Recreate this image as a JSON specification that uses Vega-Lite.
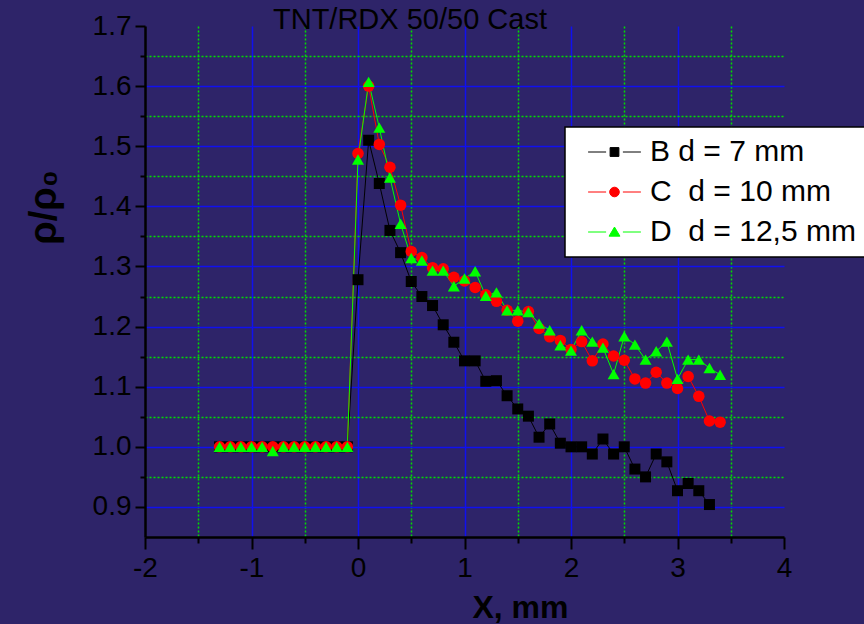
{
  "$schema": "https://vega.github.io/schema/vega-lite/v6.json",
  "width": 639,
  "height": 511,
  "autosize": {"type": "none"},
  "padding": {"left": 145, "top": 26, "right": 80, "bottom": 87},
  "background": "#2e2469",
  "title": {"text": "TNT/RDX 50/50 Cast", "anchor": "start", "frame": "group", "dx": 128, "dy": 25, "fontSize": 29, "font": "Liberation Sans", "fontWeight": "normal", "color": "black", "offset": 2},
  "config": {"view": {"stroke": null}, "font": "Liberation Sans"},
  "resolve": {"legend": {"color": "independent", "shape": "independent", "size": "independent"}},
  "data": {"values": [
    {"s": "B d = 7 mm", "x": -1.3, "y": 1.0}, {"s": "B d = 7 mm", "x": -1.2, "y": 1.0}, {"s": "B d = 7 mm", "x": -1.1, "y": 1.0}, {"s": "B d = 7 mm", "x": -1.0, "y": 1.0}, {"s": "B d = 7 mm", "x": -0.9, "y": 1.0}, {"s": "B d = 7 mm", "x": -0.8, "y": 1.0}, {"s": "B d = 7 mm", "x": -0.7, "y": 1.0}, {"s": "B d = 7 mm", "x": -0.6, "y": 1.0}, {"s": "B d = 7 mm", "x": -0.5, "y": 1.0}, {"s": "B d = 7 mm", "x": -0.4, "y": 1.0}, {"s": "B d = 7 mm", "x": -0.3, "y": 1.0}, {"s": "B d = 7 mm", "x": -0.2, "y": 1.0}, {"s": "B d = 7 mm", "x": -0.1, "y": 1.0},
    {"s": "B d = 7 mm", "x": 0.0, "y": 1.278}, {"s": "B d = 7 mm", "x": 0.1, "y": 1.510}, {"s": "B d = 7 mm", "x": 0.2, "y": 1.438}, {"s": "B d = 7 mm", "x": 0.3, "y": 1.360}, {"s": "B d = 7 mm", "x": 0.4, "y": 1.323}, {"s": "B d = 7 mm", "x": 0.5, "y": 1.275}, {"s": "B d = 7 mm", "x": 0.6, "y": 1.250}, {"s": "B d = 7 mm", "x": 0.7, "y": 1.235}, {"s": "B d = 7 mm", "x": 0.8, "y": 1.203}, {"s": "B d = 7 mm", "x": 0.9, "y": 1.174},
    {"s": "B d = 7 mm", "x": 1.0, "y": 1.143}, {"s": "B d = 7 mm", "x": 1.1, "y": 1.143}, {"s": "B d = 7 mm", "x": 1.2, "y": 1.109}, {"s": "B d = 7 mm", "x": 1.3, "y": 1.110}, {"s": "B d = 7 mm", "x": 1.4, "y": 1.085}, {"s": "B d = 7 mm", "x": 1.5, "y": 1.063}, {"s": "B d = 7 mm", "x": 1.6, "y": 1.051}, {"s": "B d = 7 mm", "x": 1.7, "y": 1.016}, {"s": "B d = 7 mm", "x": 1.8, "y": 1.038}, {"s": "B d = 7 mm", "x": 1.9, "y": 1.006},
    {"s": "B d = 7 mm", "x": 2.0, "y": 1.000}, {"s": "B d = 7 mm", "x": 2.1, "y": 1.000}, {"s": "B d = 7 mm", "x": 2.2, "y": 0.988}, {"s": "B d = 7 mm", "x": 2.3, "y": 1.013}, {"s": "B d = 7 mm", "x": 2.4, "y": 0.988}, {"s": "B d = 7 mm", "x": 2.5, "y": 1.000}, {"s": "B d = 7 mm", "x": 2.6, "y": 0.963}, {"s": "B d = 7 mm", "x": 2.7, "y": 0.950}, {"s": "B d = 7 mm", "x": 2.8, "y": 0.988}, {"s": "B d = 7 mm", "x": 2.9, "y": 0.975},
    {"s": "B d = 7 mm", "x": 3.0, "y": 0.927}, {"s": "B d = 7 mm", "x": 3.1, "y": 0.939}, {"s": "B d = 7 mm", "x": 3.2, "y": 0.927}, {"s": "B d = 7 mm", "x": 3.3, "y": 0.904},
    {"s": "C\u00a0 d = 10 mm", "x": -1.3, "y": 1.0}, {"s": "C\u00a0 d = 10 mm", "x": -1.2, "y": 1.0}, {"s": "C\u00a0 d = 10 mm", "x": -1.1, "y": 1.0}, {"s": "C\u00a0 d = 10 mm", "x": -1.0, "y": 1.0}, {"s": "C\u00a0 d = 10 mm", "x": -0.9, "y": 1.0}, {"s": "C\u00a0 d = 10 mm", "x": -0.8, "y": 1.0}, {"s": "C\u00a0 d = 10 mm", "x": -0.7, "y": 1.0}, {"s": "C\u00a0 d = 10 mm", "x": -0.6, "y": 1.0}, {"s": "C\u00a0 d = 10 mm", "x": -0.5, "y": 1.0}, {"s": "C\u00a0 d = 10 mm", "x": -0.4, "y": 1.0}, {"s": "C\u00a0 d = 10 mm", "x": -0.3, "y": 1.0}, {"s": "C\u00a0 d = 10 mm", "x": -0.2, "y": 1.0}, {"s": "C\u00a0 d = 10 mm", "x": -0.1, "y": 1.0},
    {"s": "C\u00a0 d = 10 mm", "x": 0.0, "y": 1.488}, {"s": "C\u00a0 d = 10 mm", "x": 0.1, "y": 1.600}, {"s": "C\u00a0 d = 10 mm", "x": 0.2, "y": 1.503}, {"s": "C\u00a0 d = 10 mm", "x": 0.3, "y": 1.465}, {"s": "C\u00a0 d = 10 mm", "x": 0.4, "y": 1.402}, {"s": "C\u00a0 d = 10 mm", "x": 0.5, "y": 1.325}, {"s": "C\u00a0 d = 10 mm", "x": 0.6, "y": 1.315}, {"s": "C\u00a0 d = 10 mm", "x": 0.7, "y": 1.298}, {"s": "C\u00a0 d = 10 mm", "x": 0.8, "y": 1.296}, {"s": "C\u00a0 d = 10 mm", "x": 0.9, "y": 1.282},
    {"s": "C\u00a0 d = 10 mm", "x": 1.0, "y": 1.276}, {"s": "C\u00a0 d = 10 mm", "x": 1.1, "y": 1.265}, {"s": "C\u00a0 d = 10 mm", "x": 1.2, "y": 1.253}, {"s": "C\u00a0 d = 10 mm", "x": 1.3, "y": 1.242}, {"s": "C\u00a0 d = 10 mm", "x": 1.4, "y": 1.227}, {"s": "C\u00a0 d = 10 mm", "x": 1.5, "y": 1.209}, {"s": "C\u00a0 d = 10 mm", "x": 1.6, "y": 1.225}, {"s": "C\u00a0 d = 10 mm", "x": 1.7, "y": 1.197}, {"s": "C\u00a0 d = 10 mm", "x": 1.8, "y": 1.183}, {"s": "C\u00a0 d = 10 mm", "x": 1.9, "y": 1.177},
    {"s": "C\u00a0 d = 10 mm", "x": 2.0, "y": 1.162}, {"s": "C\u00a0 d = 10 mm", "x": 2.1, "y": 1.175}, {"s": "C\u00a0 d = 10 mm", "x": 2.2, "y": 1.143}, {"s": "C\u00a0 d = 10 mm", "x": 2.3, "y": 1.171}, {"s": "C\u00a0 d = 10 mm", "x": 2.4, "y": 1.151}, {"s": "C\u00a0 d = 10 mm", "x": 2.5, "y": 1.144}, {"s": "C\u00a0 d = 10 mm", "x": 2.6, "y": 1.113}, {"s": "C\u00a0 d = 10 mm", "x": 2.7, "y": 1.106}, {"s": "C\u00a0 d = 10 mm", "x": 2.8, "y": 1.124}, {"s": "C\u00a0 d = 10 mm", "x": 2.9, "y": 1.106},
    {"s": "C\u00a0 d = 10 mm", "x": 3.0, "y": 1.097}, {"s": "C\u00a0 d = 10 mm", "x": 3.1, "y": 1.117}, {"s": "C\u00a0 d = 10 mm", "x": 3.2, "y": 1.084}, {"s": "C\u00a0 d = 10 mm", "x": 3.3, "y": 1.043}, {"s": "C\u00a0 d = 10 mm", "x": 3.4, "y": 1.041},
    {"s": "D\u00a0 d = 12,5 mm", "x": -1.3, "y": 1.0}, {"s": "D\u00a0 d = 12,5 mm", "x": -1.2, "y": 1.0}, {"s": "D\u00a0 d = 12,5 mm", "x": -1.1, "y": 1.0}, {"s": "D\u00a0 d = 12,5 mm", "x": -1.0, "y": 1.0}, {"s": "D\u00a0 d = 12,5 mm", "x": -0.9, "y": 1.0}, {"s": "D\u00a0 d = 12,5 mm", "x": -0.8, "y": 0.993}, {"s": "D\u00a0 d = 12,5 mm", "x": -0.7, "y": 1.0}, {"s": "D\u00a0 d = 12,5 mm", "x": -0.6, "y": 1.0}, {"s": "D\u00a0 d = 12,5 mm", "x": -0.5, "y": 1.0}, {"s": "D\u00a0 d = 12,5 mm", "x": -0.4, "y": 1.0}, {"s": "D\u00a0 d = 12,5 mm", "x": -0.3, "y": 1.0}, {"s": "D\u00a0 d = 12,5 mm", "x": -0.2, "y": 1.0}, {"s": "D\u00a0 d = 12,5 mm", "x": -0.1, "y": 1.0},
    {"s": "D\u00a0 d = 12,5 mm", "x": 0.0, "y": 1.478}, {"s": "D\u00a0 d = 12,5 mm", "x": 0.1, "y": 1.607}, {"s": "D\u00a0 d = 12,5 mm", "x": 0.2, "y": 1.531}, {"s": "D\u00a0 d = 12,5 mm", "x": 0.3, "y": 1.448}, {"s": "D\u00a0 d = 12,5 mm", "x": 0.4, "y": 1.371}, {"s": "D\u00a0 d = 12,5 mm", "x": 0.5, "y": 1.314}, {"s": "D\u00a0 d = 12,5 mm", "x": 0.6, "y": 1.310}, {"s": "D\u00a0 d = 12,5 mm", "x": 0.7, "y": 1.293}, {"s": "D\u00a0 d = 12,5 mm", "x": 0.8, "y": 1.293}, {"s": "D\u00a0 d = 12,5 mm", "x": 0.9, "y": 1.267},
    {"s": "D\u00a0 d = 12,5 mm", "x": 1.0, "y": 1.280}, {"s": "D\u00a0 d = 12,5 mm", "x": 1.1, "y": 1.292}, {"s": "D\u00a0 d = 12,5 mm", "x": 1.2, "y": 1.251}, {"s": "D\u00a0 d = 12,5 mm", "x": 1.3, "y": 1.257}, {"s": "D\u00a0 d = 12,5 mm", "x": 1.4, "y": 1.227}, {"s": "D\u00a0 d = 12,5 mm", "x": 1.5, "y": 1.227}, {"s": "D\u00a0 d = 12,5 mm", "x": 1.6, "y": 1.224}, {"s": "D\u00a0 d = 12,5 mm", "x": 1.7, "y": 1.205}, {"s": "D\u00a0 d = 12,5 mm", "x": 1.8, "y": 1.194}, {"s": "D\u00a0 d = 12,5 mm", "x": 1.9, "y": 1.169},
    {"s": "D\u00a0 d = 12,5 mm", "x": 2.0, "y": 1.160}, {"s": "D\u00a0 d = 12,5 mm", "x": 2.1, "y": 1.194}, {"s": "D\u00a0 d = 12,5 mm", "x": 2.2, "y": 1.175}, {"s": "D\u00a0 d = 12,5 mm", "x": 2.3, "y": 1.165}, {"s": "D\u00a0 d = 12,5 mm", "x": 2.4, "y": 1.121}, {"s": "D\u00a0 d = 12,5 mm", "x": 2.5, "y": 1.184}, {"s": "D\u00a0 d = 12,5 mm", "x": 2.6, "y": 1.170}, {"s": "D\u00a0 d = 12,5 mm", "x": 2.7, "y": 1.145}, {"s": "D\u00a0 d = 12,5 mm", "x": 2.8, "y": 1.159}, {"s": "D\u00a0 d = 12,5 mm", "x": 2.9, "y": 1.175},
    {"s": "D\u00a0 d = 12,5 mm", "x": 3.0, "y": 1.113}, {"s": "D\u00a0 d = 12,5 mm", "x": 3.1, "y": 1.145}, {"s": "D\u00a0 d = 12,5 mm", "x": 3.2, "y": 1.145}, {"s": "D\u00a0 d = 12,5 mm", "x": 3.3, "y": 1.131}, {"s": "D\u00a0 d = 12,5 mm", "x": 3.4, "y": 1.120}
  ]},
  "encoding": {
    "x": {
      "field": "x", "type": "quantitative",
      "scale": {"domain": [-2, 4], "nice": false, "zero": false},
      "axis": {
        "values": [-2, -1.5, -1, -0.5, 0, 0.5, 1, 1.5, 2, 2.5, 3, 3.5, 4],
        "labelExpr": "datum.value % 1 === 0 ? '' + datum.value : ''",
        "labelOverlap": false, "labelFlush": false,
        "labelFontSize": 28, "labelColor": "black", "labelFont": "Liberation Sans", "labelPadding": 5,
        "domainColor": "black", "domainWidth": 2.5,
        "tickColor": "black", "tickWidth": 2,
        "tickSize": {"condition": {"test": "datum.value % 1 !== 0", "value": 6}, "value": 12},
        "grid": true, "gridWidth": 1.5,
        "gridColor": {"condition": {"test": "datum.value % 1 !== 0", "value": "#00e000"}, "value": "#1010f0"},
        "gridDash": {"condition": {"test": "datum.value % 1 !== 0", "value": [2, 2]}, "value": []},
        "gridOpacity": {"condition": {"test": "datum.value === -2 || datum.value === 4", "value": 0}, "value": 1},
        "title": "X, mm", "titleFontSize": 32, "titleFontWeight": "bold", "titleColor": "black", "titleFont": "Liberation Sans",
        "titleX": 375, "titleY": 80, "titleAlign": "center", "titleBaseline": "alphabetic"
      }
    },
    "y": {
      "field": "y", "type": "quantitative",
      "scale": {"domain": [0.85, 1.7], "nice": false, "zero": false},
      "axis": {
        "values": [0.9, 0.95, 1.0, 1.05, 1.1, 1.15, 1.2, 1.25, 1.3, 1.35, 1.4, 1.45, 1.5, 1.55, 1.6, 1.65, 1.7],
        "labelExpr": "abs(datum.value * 10 - round(datum.value * 10)) < 0.01 ? format(datum.value, '.1f') : ''",
        "labelOverlap": false, "labelFlush": false,
        "labelFontSize": 28, "labelColor": "black", "labelFont": "Liberation Sans", "labelPadding": 4,
        "domainColor": "black", "domainWidth": 2.5,
        "tickColor": "black", "tickWidth": 2,
        "tickSize": {"condition": {"test": "abs(datum.value * 10 - round(datum.value * 10)) > 0.01", "value": 5}, "value": 10},
        "grid": true, "gridWidth": 1.5,
        "gridColor": {"condition": {"test": "abs(datum.value * 10 - round(datum.value * 10)) > 0.01", "value": "#00e000"}, "value": "#1010f0"},
        "gridDash": {"condition": {"test": "abs(datum.value * 10 - round(datum.value * 10)) > 0.01", "value": [2, 2]}, "value": []},
        "gridOpacity": {"condition": {"test": "datum.value > 1.69", "value": 0}, "value": 1},
        "title": "ρ/ρ₀", "titleFontSize": 38, "titleFontWeight": "bold", "titleColor": "black", "titleFont": "Liberation Sans",
        "titleAngle": 270, "titleX": -90, "titleY": 181, "titleAlign": "center", "titleBaseline": "alphabetic"
      }
    }
  },
  "layer": [
    {
      "mark": {"type": "line", "strokeWidth": 1},
      "encoding": {
        "color": {
          "field": "s", "type": "nominal",
          "scale": {"domain": ["B d = 7 mm", "C\u00a0 d = 10 mm", "D\u00a0 d = 12,5 mm"], "range": ["#000000", "#ff0000", "#00ff00"]},
          "legend": {
            "orient": "none", "legendX": 420, "legendY": 101, "title": null,
            "fillColor": "white", "strokeColor": "black", "padding": 10, "cornerRadius": 0,
            "labelFontSize": 30, "labelFont": "Liberation Sans", "labelColor": "black", "labelLimit": 400,
            "rowPadding": 10, "symbolSize": 256, "symbolOffset": 24.5, "labelOffset": 20.5,
            "encode": {
              "legend": {"update": {"strokeWidth": {"value": 1.5}}},
              "symbols": {"update": {
                "shape": {"signal": "indexof(datum.value, 'B') === 0 ? 'M-3.3,0H-1.05M1.05,0H3.3M-0.55,-0.55H0.55V0.55H-0.55Z' : indexof(datum.value, 'C') === 0 ? 'M-3.3,0H-1.05M1.05,0H3.3M-0.6,0A0.6,0.6 0 1,0 0.6,0A0.6,0.6 0 1,0 -0.6,0Z' : 'M-3.3,0H-1.05M1.05,0H3.3M0,-0.62L0.68,0.52H-0.68Z'"},
                "fill": {"scale": "color", "field": "value"},
                "stroke": {"scale": "color", "field": "value"},
                "strokeWidth": {"value": 1},
                "size": {"value": 256},
                "opacity": {"value": 1}
              }}
            }
          }
        }
      }
    },
    {
      "mark": {"type": "point", "filled": true, "opacity": 1},
      "encoding": {
        "color": {"field": "s", "type": "nominal", "scale": {"domain": ["B d = 7 mm", "C\u00a0 d = 10 mm", "D\u00a0 d = 12,5 mm"], "range": ["#000000", "#ff0000", "#00ff00"]}, "legend": null},
        "shape": {"field": "s", "type": "nominal", "scale": {"domain": ["B d = 7 mm", "C\u00a0 d = 10 mm", "D\u00a0 d = 12,5 mm"], "range": ["square", "circle", "triangle-up"]}, "legend": null},
        "size": {"field": "s", "type": "nominal", "scale": {"domain": ["B d = 7 mm", "C\u00a0 d = 10 mm", "D\u00a0 d = 12,5 mm"], "range": [121, 144, 185]}, "legend": null}
      }
    }
  ]
}
